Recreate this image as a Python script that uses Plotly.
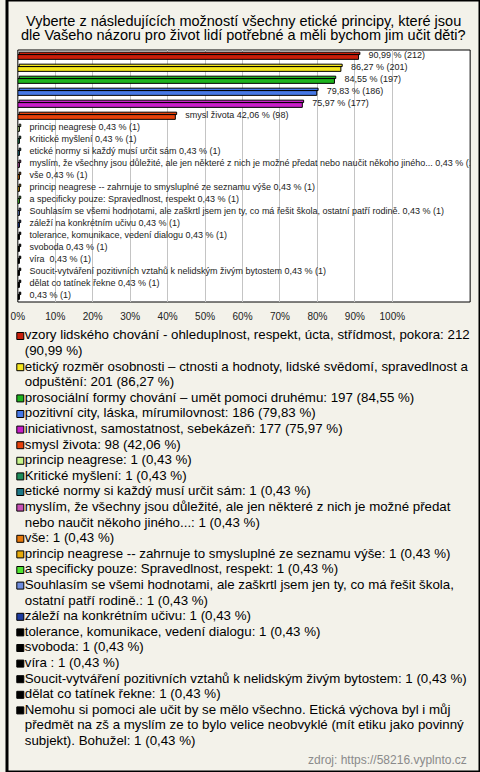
import plotly.graph_objects as go

# ---------------- data ----------------
title_lines = [
    "Vyberte z následujících možností všechny etické principy, které jsou",
    "dle Vašeho názoru pro život lidí potřebné a měli bychom jim učit děti?",
]

categories = [
    "vzory lidského chování - ohleduplnost, respekt, úcta, střídmost, pokora",
    "etický rozměr osobnosti – ctnosti a hodnoty, lidské svědomí, spravedlnost a odpuštění",
    "prosociální formy chování – umět pomoci druhému",
    "pozitivní city, láska, mírumilovnost",
    "iniciativnost, samostatnost, sebekázeň",
    "smysl života",
    "princip neagrese",
    "Kritické myšlení",
    "etické normy si každý musí určit sám",
    "myslím, že všechny jsou důležité, ale jen některé z nich je možné předat nebo naučit někoho jiného...",
    "vše",
    "princip neagrese -- zahrnuje to smysluplné ze seznamu výše",
    "a specificky pouze: Spravedlnost, respekt",
    "Souhlasím se všemi hodnotami, ale zaškrtl jsem jen ty, co má řešit škola, ostatní patří rodině.",
    "záleží na konkrétním učivu",
    "tolerance, komunikace, vedení dialogu",
    "svoboda",
    "víra ",
    "Soucit-vytváření pozitivních vztahů k nelidským živým bytostem",
    "dělat co tatínek řekne",
    "Nemohu si pomoci ale učit by se mělo všechno. Etická výchova byl i můj předmět na zš a myslím ze to bylo velice neobvyklé (mít etiku jako povinný subjekt). Bohužel",
]

counts = [212, 201, 197, 186, 177, 98, 1, 1, 1, 1, 1, 1, 1, 1, 1, 1, 1, 1, 1, 1, 1]
percents = [90.99, 86.27, 84.55, 79.83, 75.97, 42.06, 0.43, 0.43, 0.43, 0.43, 0.43,
            0.43, 0.43, 0.43, 0.43, 0.43, 0.43, 0.43, 0.43, 0.43, 0.43]

# whether the in-chart label repeats the category name
label_shows_name = [False] * 5 + [True] * 15 + [False]

colors = [
    "#c81e0a", "#f5e61e", "#1eb41e", "#4678e6", "#c81ec8", "#e6410a",
    "#c8f58c", "#1e8c5a", "#1e7887", "#c850b4", "#e6780a", "#e6aa0a",
    "#50e632", "#6e8cdc", "#1e3ca0", "#000000", "#000000", "#000000",
    "#000000", "#000000", "#000000",
]

tick_values = [0, 10, 20, 30, 40, 50, 60, 70, 80, 90, 100]
tick_labels = [f"{v}%" for v in tick_values]

source_text = "zdroj: https://58216.vyplnto.cz"

# ---------------- helpers ----------------
W, H = 480, 772
PAPER = "#f3f2ea"
FONT = "Liberation Sans, Arial, sans-serif"


def cz(p):
    return f"{p:.2f}".replace(".", ",")


NARROW = {" ": .278, "i": .222, "í": .278, "l": .222, "j": .222, "t": .278, "f": .278,
          "r": .333, "ř": .333, ",": .278, ".": .278, ":": .278, "(": .333, ")": .333,
          "-": .333, "/": .278, "m": .833, "w": .722, "%": .889, "s": .5, "š": .5,
          "c": .5, "č": .5, "k": .5, "v": .5, "x": .5, "y": .5, "ý": .5, "z": .5,
          "ž": .5, "K": .667, "S": .667, "N": .722, "E": .667, "B": .667, "V": .667,
          "ú": .556, "ů": .556}


def text_em(s):
    return sum(NARROW.get(ch, .556) for ch in s)


def wrap(s, max_em=33.8):
    words = s.split(" ")
    lines, cur = [], ""
    for w in words:
        cand = w if cur == "" else cur + " " + w
        if cur and text_em(cand) > max_em:
            lines.append(cur)
            cur = w
        else:
            cur = cand
    lines.append(cur)
    return lines


bar_text = []
for name, n, p, show in zip(categories, counts, percents, label_shows_name):
    val = f"{cz(p)} % ({n})"
    bar_text.append("\u00a0" * 4 + (f"{name} {val}" if show else val))

idx = list(range(len(categories)))

fig = go.Figure()

# front face of each (pseudo-3D) bar
fig.add_trace(go.Bar(
    x=percents, y=idx, orientation="h",
    marker=dict(color=colors, line=dict(color="#000000", width=1)),
    width=0.40, offset=-0.12,
    showlegend=False, hoverinfo="skip",
))
# top face, slightly skewed to the right
fig.add_trace(go.Bar(
    x=percents, y=idx, orientation="h", base=0.35,
    marker=dict(color=colors, line=dict(color="#000000", width=1)),
    width=0.20, offset=-0.32,
    showlegend=False, hoverinfo="skip",
))
# value labels just right of each bar
fig.add_trace(go.Scatter(
    x=percents, y=idx, mode="text", text=bar_text, textposition="middle right",
    textfont=dict(size=9, color="#222222", family=FONT), cliponaxis=True,
    showlegend=False, hoverinfo="skip",
))

# ---- legend built as a list under the chart ----
LEG_TOP = 336.0
LEG_STEP = 15.6
sq_y, line_x, line_y, line_t = [], [], [], []
k = 0
for name, n, p in zip(categories, counts, percents):
    lines = wrap(f"{name}: {n} ({cz(p)} %)")
    sq_y.append(LEG_TOP + k * LEG_STEP)
    for ln in lines:
        line_y.append(LEG_TOP + k * LEG_STEP)
        line_t.append(ln)
        line_x.append(18)
        k += 1

fig.add_trace(go.Scatter(
    x=[13.5] * len(sq_y), y=sq_y, mode="markers", xaxis="x2", yaxis="y2",
    marker=dict(symbol="square", size=7, color=colors, line=dict(color="#000000", width=1)),
    showlegend=False, hoverinfo="skip", cliponaxis=False,
))
fig.add_trace(go.Scatter(
    x=line_x, y=line_y, mode="text", text=line_t, textposition="middle right",
    xaxis="x2", yaxis="y2", textfont=dict(size=13.3, color="#000000", family=FONT),
    showlegend=False, hoverinfo="skip", cliponaxis=False,
))

PL, PR, PT, PB = 11, 470, 50, 302
xmax = 100 * (PR - PL) / (391 - PL)

fig.update_layout(
    width=W, height=H, autosize=False,
    margin=dict(l=0, r=0, t=0, b=0),
    paper_bgcolor=PAPER, plot_bgcolor=PAPER,
    font=dict(family=FONT, color="#000000"),
    showlegend=False, barmode="overlay",
    xaxis=dict(domain=[PL / W, PR / W], range=[0, xmax], tickvals=tick_values,
               ticktext=tick_labels, showgrid=True, gridcolor="#c4c4c4", gridwidth=1,
               zeroline=False, showline=False, ticks="outside", ticklen=5,
               tickcolor="rgba(0,0,0,0)", tickfont=dict(size=10, color="#222222", family=FONT),
               fixedrange=True),
    yaxis=dict(domain=[1 - PB / H, 1 - PT / H], range=[len(idx) - 0.5, -0.5],
               showticklabels=False, showgrid=False, zeroline=False, fixedrange=True),
    xaxis2=dict(domain=[0, 1], range=[0, W], visible=False, anchor="y2", fixedrange=True),
    yaxis2=dict(domain=[0, 1 - 320 / H], range=[H, 320], visible=False, anchor="x2",
                fixedrange=True),
    shapes=[
        dict(type="rect", xref="x domain", yref="y domain", x0=0, x1=1, y0=0, y1=1,
             fillcolor="#ffffff", line=dict(color="#000000", width=1), layer="below"),
        dict(type="rect", xref="paper", yref="paper", x0=0, x1=1, y0=0, y1=1,
             line=dict(color="#000000", width=3), layer="above"),
    ],
    annotations=[
        dict(text=title_lines[0], xref="paper", yref="paper", x=0.5, y=1 - 21 / H,
             xanchor="center", yanchor="middle", showarrow=False,
             font=dict(size=14.5, color="#000000", family=FONT)),
        dict(text=title_lines[1], xref="paper", yref="paper", x=0.5, y=1 - 35 / H,
             xanchor="center", yanchor="middle", showarrow=False,
             font=dict(size=14.5, color="#000000", family=FONT)),
        dict(text=source_text, xref="paper", yref="paper", x=469 / W, y=1 - 760 / H,
             xanchor="right", yanchor="middle", showarrow=False,
             font=dict(size=12, color="#8a8a8a", family=FONT)),
    ],
)

fig.write_html(
    "out.html",
    config={"displayModeBar": False, "staticPlot": True},
    post_script="document.body.style.margin='0';document.body.style.overflow='hidden';",
)
